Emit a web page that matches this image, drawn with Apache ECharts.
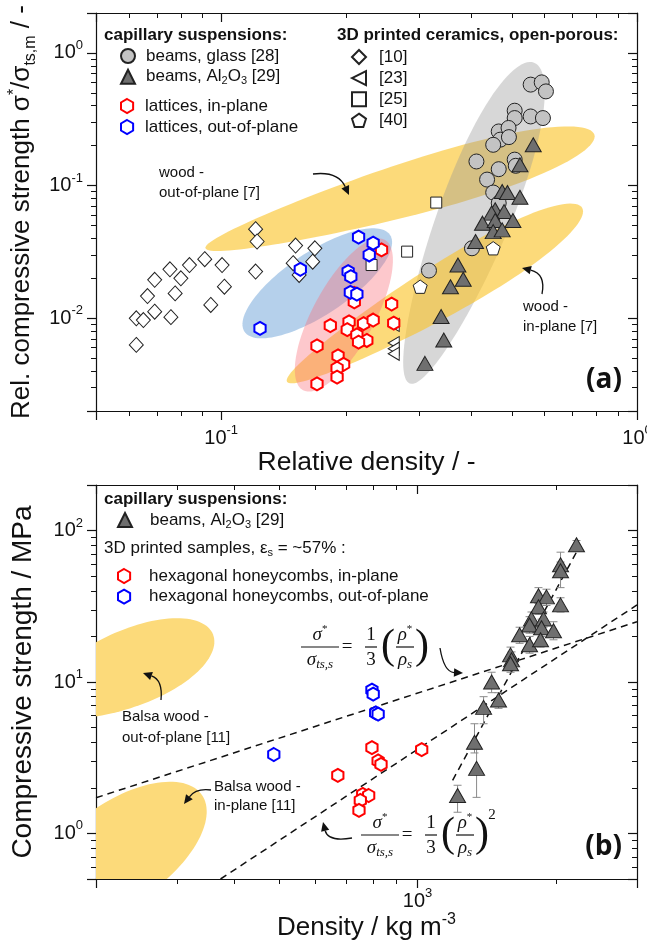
<!DOCTYPE html>
<html>
<head>
<meta charset="utf-8">
<script src="https://cdn.jsdelivr.net/npm/echarts@6/dist/echarts.min.js"></script>
<style>
  html, body { margin: 0; padding: 0; background: #fff; }
  #main { width: 647px; height: 943px; }
</style>
</head>
<body>
<div id="main"></div>
<script>
// ---- panel (a): relative density vs relative compressive strength ----
const glassA = [[0.555,0.577],[0.590,0.600],[0.604,0.513],[0.508,0.367],[0.508,0.323],[0.555,0.332],
  [0.594,0.323],[0.465,0.256],[0.491,0.272],[0.469,0.222],[0.492,0.232],[0.451,0.203],[0.411,0.152],
  [0.508,0.157],[0.465,0.133],[0.511,0.141],[0.436,0.111],[0.451,0.0887],[0.465,0.0738],[0.401,0.0337],
  [0.316,0.0229]];
const alumA = [[0.563,0.203],[0.523,0.1435],[0.474,0.0902],[0.488,0.0887],[0.523,0.0818],[0.456,0.0657],
  [0.479,0.0637],[0.447,0.062],[0.425,0.0521],[0.456,0.0545],[0.503,0.0545],[0.451,0.045],[0.474,0.0464],
  [0.409,0.0379],[0.371,0.0252],[0.382,0.0197],[0.356,0.0173],[0.338,0.0103],[0.343,0.00686],[0.309,0.00457]];
const latInA = [[0.243,0.0328],[0.209,0.0154],[0.209,0.0133],[0.257,0.0128],[0.183,0.0088],[0.203,0.0094],
  [0.220,0.0091],[0.232,0.0097],[0.260,0.0092],[0.201,0.0082],[0.212,0.0075],[0.224,0.0068],[0.214,0.0066],
  [0.170,0.0062],[0.191,0.0052],[0.197,0.0045],[0.190,0.0042],[0.190,0.0036],[0.170,0.0032]];
const latOutA = [[0.214,0.0409],[0.232,0.0368],[0.227,0.030],[0.155,0.0234],[0.202,0.0225],[0.205,0.0206],
  [0.2045,0.0157],[0.212,0.0152],[0.124,0.0084]];
const ref10 = [[0.121,0.0469],[0.122,0.0379],[0.151,0.0353],[0.168,0.0337],[0.149,0.026],[0.166,0.0267],
  [0.154,0.0212],[0.121,0.0225],[0.0913,0.0279],[0.0839,0.0252],[0.0753,0.0234],[0.1005,0.0252],[0.080,0.020],
  [0.0692,0.0195],[0.1018,0.0173],[0.0775,0.0154],[0.0665,0.0147],[0.0944,0.0126],[0.0692,0.0112],
  [0.0625,0.010],[0.065,0.0097],[0.0757,0.0102],[0.0625,0.0063]];
const ref23 = [[0.260,0.0089],[0.260,0.0065],[0.260,0.0059],[0.260,0.0054]];
const ref25 = [[0.329,0.0745],[0.280,0.0318],[0.230,0.0252]];
const ref40 = [[0.301,0.0173],[0.451,0.0337]];
// shaded regions, two ends of each region's long axis
const woodOutA = [[0.0917,0.0337],[0.79,0.2416]];
const grayA    = [[0.284,0.00323],[0.5655,0.845]];
const woodInA  = [[0.144,0.00332],[0.738,0.068]];
const blueA    = [[0.1138,0.00792],[0.2547,0.0425]];
const pinkA    = [[0.1573,0.00287],[0.2474,0.039]];

// ---- panel (b): density vs compressive strength ----
const alumB = [[2216,80.7],[2046,59.5],[2046,54.3],[1832,37.1],[1907,36.5],[2046,32.3],[1832,31.4],
  [1769,26.1],[1879,26.1],[1752,23.8],[1860,22.8],[1975,21.8],[1667,20.5],[1752,17.6],[1851,19.0],
  [1593,15.1],[1601,14.0],[1593,13.2],[1449,10.0],[1500,7.6],[1392,6.8],[1330,4.0],[1344,2.69],[1222,1.78]];
const alumBErr = [[75,86],[50,72],[42,62],[33,42],[32,41],[29,36],[28,35],[23,29],[23,29],[21,27],[20,26],
  [19,25],[18,23],[15.5,20],[17,21.5],[13.5,17],[12.3,15.8],[11.6,14.8],[8.5,11.6],[6.7,8.5],[5.3,8],
  [3.4,5.3],[1.73,3.6],[1.38,2.08]];
const honeyInB = [[1021,3.58],[796,3.69],[821,3.01],[833,2.86],[671,2.42],[760,1.81],[783,1.78],[751,1.65],[746,1.42]];
const honeyOutB = [[796,8.85],[801,8.32],[811,6.26],[821,6.13],[487,3.32]];
const linFit = [[200,1.72],[3000,25]];
const sqFit = [[373,0.5],[3000,32.3]];
const alumFit = [[1192,2.24],[2249,78.3]];
const balsaOut = [[148.9,6.97],[359.2,20.65]];
const balsaIn = [[149.8,0.312],[339.6,1.8]];

const FONT = '"Liberation Sans", Arial, sans-serif';
const MATH = '"Liberation Serif", "DejaVu Serif", serif';
const INK = '#111';
const YEL = 'rgba(250,196,40,0.62)';

const HEX = 'path://M0,-10L8.66,-5L8.66,5L0,10L-8.66,5L-8.66,-5Z';
const LTRI = 'path://M-10,0L10,-10L10,10Z';
const PENT = 'path://M0,-10L9.51,-3.09L5.88,8.09L-5.88,8.09L-9.51,-3.09Z';

function decadeLabel(v) {
  const l = Math.log10(v), e = Math.round(l);
  if (Math.abs(l - e) > 1e-6) return '';
  return '{b|10}{s|' + e + '}';
}
const tickRich = {
  b: { fontSize: 20, fontFamily: FONT, color: INK, lineHeight: 28 },
  s: { fontSize: 13, fontFamily: FONT, color: INK, lineHeight: 13, verticalAlign: 'top' }
};
function titleRich(size) {
  return {
    n: { fontSize: size, fontFamily: FONT, color: INK, lineHeight: 32 },
    p: { fontSize: 16, fontFamily: FONT, color: INK, lineHeight: 16, verticalAlign: 'top' },
    d: { fontSize: 16, fontFamily: FONT, color: INK, lineHeight: 16, verticalAlign: 'bottom' }
  };
}

function logAxis(opt) {
  return Object.assign({
    type: 'log', logBase: 10,
    axisLine: { show: true, onZero: false, lineStyle: { color: INK, width: 1.2 } },
    axisTick: { show: true, inside: false, length: 9, lineStyle: { color: INK, width: 1.2 } },
    minorTick: { show: true, splitNumber: 9, length: 5, lineStyle: { color: INK, width: 1 } },
    splitLine: { show: false },
    axisLabel: { show: false },
    nameTextStyle: { rich: titleRich(26) }
  }, opt);
}
function mirror(a) {
  a.axisTick = Object.assign({}, a.axisTick, { inside: true });
  return a;
}
const labels = { show: true, formatter: decadeLabel, margin: 13, rich: tickRich, color: INK };

function ellipseRenderer(styles) {
  return function (params, api) {
    const p1 = api.coord([api.value(0), api.value(1)]);
    const p2 = api.coord([api.value(2), api.value(3)]);
    const st = styles[params.dataIndex];
    const cx = (p1[0] + p2[0]) / 2, cy = (p1[1] + p2[1]) / 2;
    const a = Math.hypot(p2[0] - p1[0], p2[1] - p1[1]) / 2, b = a * st.ratio;
    const t = Math.atan2(p2[1] - p1[1], p2[0] - p1[0]);
    const pts = [];
    for (let k = 0; k < 120; k++) {
      const u = k / 120 * 2 * Math.PI;
      const ex = a * Math.cos(u), ey = b * Math.sin(u) * (1 + st.egg * Math.cos(u));
      pts.push([cx + ex * Math.cos(t) - ey * Math.sin(t), cy + ex * Math.sin(t) + ey * Math.cos(t)]);
    }
    const cs = params.coordSys;
    return {
      type: 'group',
      clipPath: { type: 'rect', shape: { x: cs.x, y: cs.y, width: cs.width, height: cs.height } },
      children: [{ type: 'polygon', shape: { points: pts }, style: { fill: st.fill } }]
    };
  };
}
const ellA = [woodOutA, grayA, woodInA, blueA, pinkA];
const ellAStyle = [
  { ratio: 0.13, egg: 0.3, fill: YEL },
  { ratio: 0.21, egg: 0.15, fill: 'rgba(150,150,150,0.38)' },
  { ratio: 0.15, egg: 0.25, fill: YEL },
  { ratio: 0.36, egg: 0, fill: 'rgba(90,150,210,0.45)' },
  { ratio: 0.36, egg: 0, fill: 'rgba(250,110,120,0.38)' }
];
const ellB = [balsaOut, balsaIn];
const ellBStyle = [
  { ratio: 0.4, egg: 0.1, fill: 'rgb(252,218,122)' },
  { ratio: 0.5, egg: 0, fill: 'rgb(252,218,122)' }
];

function renderErr(params, api) {
  const x = api.value(0);
  const top = api.coord([x, api.value(2)]);
  const bot = api.coord([x, api.value(1)]);
  const st = { stroke: '#8a8a8a', lineWidth: 1 };
  return {
    type: 'group', children: [
      { type: 'line', shape: { x1: top[0], y1: top[1], x2: bot[0], y2: bot[1] }, style: st },
      { type: 'line', shape: { x1: top[0] - 4, y1: top[1], x2: top[0] + 4, y2: top[1] }, style: st },
      { type: 'line', shape: { x1: bot[0] - 4, y1: bot[1], x2: bot[0] + 4, y2: bot[1] }, style: st }
    ]
  };
}

function scatter(name, data, xi, symbol, size, fill, stroke, bw) {
  return {
    name, type: 'scatter', data, xAxisIndex: xi, yAxisIndex: xi, z: 5,
    symbol, symbolSize: size, symbolKeepAspect: true, silent: true,
    itemStyle: { color: fill, borderColor: stroke, borderWidth: bw, opacity: 1 }
  };
}

// ---- annotations ----
function txt(x, y, text, o) {
  o = o || {};
  const al = o.align || 'left';
  return {
    type: 'text', x, y, z: 100, silent: true,
    style: {
      text, fill: INK, font: o.font || ('15px ' + FONT),
      align: al, verticalAlign: 'middle', textAlign: al, textVerticalAlign: 'middle',
      rich: o.rich
    }
  };
}
function arrow(x1, y1, cx, cy, x2, y2) {
  const ang = Math.atan2(y2 - cy, x2 - cx);
  const L = 9, W = 4.2;
  const bx = x2 - L * Math.cos(ang), by = y2 - L * Math.sin(ang);
  const nx = -Math.sin(ang), ny = Math.cos(ang);
  return [
    { type: 'bezierCurve', z: 100, silent: true, shape: { x1, y1, x2: bx, y2: by, cpx1: cx, cpy1: cy },
      style: { stroke: INK, lineWidth: 1.3, fill: null } },
    { type: 'polygon', z: 100, silent: true,
      shape: { points: [[x2, y2], [bx + nx * W, by + ny * W], [bx - nx * W, by - ny * W]] },
      style: { fill: INK } }
  ];
}
const mathRich = {
  i: { fontFamily: MATH, fontStyle: 'italic', fontSize: 19, lineHeight: 22, color: INK },
  u: { fontFamily: MATH, fontSize: 19, lineHeight: 22, color: INK },
  p: { fontFamily: MATH, fontSize: 11, lineHeight: 11, verticalAlign: 'top', color: INK },
  d: { fontFamily: MATH, fontStyle: 'italic', fontSize: 13, lineHeight: 13, verticalAlign: 'bottom', color: INK }
};
function frac(cx, cy, num, den, w) {
  return [
    txt(cx, cy - 12, num, { align: 'center', rich: mathRich }),
    { type: 'line', z: 100, silent: true, shape: { x1: cx - w / 2, y1: cy, x2: cx + w / 2, y2: cy },
      style: { stroke: INK, lineWidth: 1.2 } },
    txt(cx, cy + 13, den, { align: 'center', rich: mathRich })
  ];
}
function formula(x0, cy, squared) {
  const els = [];
  els.push(...frac(x0, cy, '{i|σ}{p|*}', '{i|σ}{d|ts,s}', 38));
  els.push(txt(x0 + 27, cy, '{u|=}', { align: 'center', rich: mathRich }));
  els.push(...frac(x0 + 51, cy, '{u|1}', '{u|3}', 12));
  els.push(txt(x0 + 68, cy, '(', { align: 'center', font: '42px ' + MATH }));
  els.push(...frac(x0 + 85, cy, '{i|ρ}{p|*}', '{i|ρ}{d|s}', 18));
  els.push(txt(x0 + 102, cy, ')', { align: 'center', font: '42px ' + MATH }));
  if (squared) els.push(txt(x0 + 112, cy - 20, '2', { align: 'center', font: '15px ' + MATH }));
  return els;
}
const subRich = {
  t: { fontSize: 17, fontFamily: FONT, color: INK, lineHeight: 20 },
  s: { fontSize: 11, fontFamily: FONT, color: INK, lineHeight: 11, verticalAlign: 'bottom' }
};

const graphics = [].concat(
  [txt(104, 35, 'capillary suspensions:', { font: 'bold 17px ' + FONT }),
   txt(337, 35, '3D printed ceramics, open-porous:', { font: 'bold 17px ' + FONT }),
   txt(104, 499, 'capillary suspensions:', { font: 'bold 17px ' + FONT }),
   txt(104, 548, '{t|3D printed samples, ε}{s|s}{t| = ~57% :}', { rich: subRich }),
   txt(622, 380, '(a)', { align: 'right', font: 'bold 28px "Open Sans", ' + FONT }),
   txt(622, 847, '(b)', { align: 'right', font: 'bold 28px "Open Sans", ' + FONT }),
   txt(159, 173, 'wood -'), txt(159, 193, 'out-of-plane [7]'),
   txt(523, 307, 'wood -'), txt(523, 327, 'in-plane [7]'),
   txt(122, 717, 'Balsa wood -'), txt(122, 738, 'out-of-plane [11]'),
   txt(214, 787, 'Balsa wood -'), txt(214, 806, 'in-plane [11]')],
  arrow(313, 174, 338, 171, 349, 195),
  arrow(542, 294, 546, 274, 522, 268),
  arrow(161, 700, 163, 680, 143, 673),
  arrow(211, 790, 196, 788, 184, 804),
  arrow(440, 648, 444, 672, 463, 673),
  arrow(352, 838, 328, 842, 323, 822),
  formula(320, 647, false),
  formula(380, 835, true)
);

function legendName(name) {
  if (name.indexOf('Al2O3') >= 0) return '{t|beams, Al}{s|2}{t|O}{s|3}{t| [29]}';
  return '{t|' + name + '}';
}
function leg(left, top, gap, pad, data) {
  return {
    orient: 'vertical', left, top, itemGap: gap, padding: 0, itemWidth: 14, itemHeight: 14,
    selectedMode: false, data, formatter: legendName,
    textStyle: { fontFamily: FONT, fontSize: 17, color: INK, lineHeight: 20, padding: [0, 0, 0, pad], rich: subRich }
  };
}

const chart = echarts.init(document.getElementById('main'));
chart.setOption({
  animation: false,
  backgroundColor: '#fff',
  textStyle: { fontFamily: FONT },
  grid: [
    { left: 96, right: 10, top: 13, height: 398, outerBoundsMode: 'none' },
    { left: 96, right: 10, top: 485, height: 394, outerBoundsMode: 'none' }
  ],
  xAxis: [
    logAxis({ gridIndex: 0, position: 'bottom', min: 0.05, max: 1, axisLabel: labels,
      name: '{n|Relative density / -}', nameLocation: 'middle', nameGap: 36,
      nameTextStyle: { rich: titleRich(26.5) } }),
    mirror(logAxis({ gridIndex: 0, position: 'top', min: 0.05, max: 1 })),
    logAxis({ gridIndex: 1, position: 'bottom', min: 200, max: 3000, axisLabel: Object.assign({}, labels, { margin: 8 }),
      name: '{n|Density / kg m}{p|-3}', nameLocation: 'middle', nameGap: 33 }),
    mirror(logAxis({ gridIndex: 1, position: 'top', min: 200, max: 3000 }))
  ],
  yAxis: [
    logAxis({ gridIndex: 0, position: 'left', min: 0.002, max: 2, axisLabel: labels,
      name: '{n|Rel. compressive strength σ}{p|*}{n|/σ}{d|ts,m}{n| / -}', nameLocation: 'middle', nameGap: 57 }),
    mirror(logAxis({ gridIndex: 0, position: 'right', min: 0.002, max: 2 })),
    logAxis({ gridIndex: 1, position: 'left', min: 0.5, max: 200, axisLabel: labels,
      name: '{n|Compressive strength / MPa}', nameLocation: 'middle', nameGap: 57,
      nameTextStyle: { rich: titleRich(28) } }),
    mirror(logAxis({ gridIndex: 1, position: 'right', min: 0.5, max: 200 }))
  ],
  legend: [
    leg(120, 46, 0.7, 6, ['beams, glass [28]', 'beams, Al2O3 [29]']),
    leg(120, 96, 1, 6, ['lattices, in-plane', 'lattices, out-of-plane']),
    leg(351, 47, 1.1, 8, ['[10]', '[23]', '[25]', '[40]']),
    leg(117, 510, 0.7, 13, ['beams, Al2O3 [29]']),
    leg(117, 566, 0.7, 13, ['hexagonal honeycombs, in-plane', 'hexagonal honeycombs, out-of-plane'])
  ],
  graphic: { elements: graphics },
  series: [
    { name: 'regions a', type: 'custom', xAxisIndex: 0, yAxisIndex: 0, z: 1, silent: true, clip: true,
      renderItem: ellipseRenderer(ellAStyle), encode: { x: [0, 2], y: [1, 3] },
      data: ellA.map(e => [e[0][0], e[0][1], e[1][0], e[1][1]]) },
    { name: 'regions b', type: 'custom', xAxisIndex: 2, yAxisIndex: 2, z: 1, silent: true, clip: true,
      renderItem: ellipseRenderer(ellBStyle), encode: { x: [0, 2], y: [1, 3] },
      data: ellB.map(e => [e[0][0], e[0][1], e[1][0], e[1][1]]) },
    scatter('[10]', ref10, 0, 'diamond', [14, 15], '#fff', '#222', 1),
    scatter('[23]', ref23, 0, LTRI, [11, 13], '#fff', '#222', 1),
    scatter('[25]', ref25, 0, 'rect', 11, '#fff', '#222', 1),
    scatter('[40]', ref40, 0, PENT, 14, '#fff', '#222', 1),
    scatter('lattices, in-plane', latInA, 0, HEX, 13, '#fff', '#ff0000', 2),
    scatter('lattices, out-of-plane', latOutA, 0, HEX, 13, '#fff', '#0000ff', 2),
    scatter('beams, glass [28]', glassA, 0, 'circle', 15, '#c3c3c3', '#222', 1),
    scatter('beams, Al2O3 [29]', alumA, 0, 'triangle', [16, 14], '#6f6f6f', '#222', 1),
    { name: 'linear', type: 'line', xAxisIndex: 2, yAxisIndex: 2, data: linFit, showSymbol: false, z: 2, silent: true,
      lineStyle: { color: INK, width: 1.5, type: [7, 5] } },
    { name: 'square', type: 'line', xAxisIndex: 2, yAxisIndex: 2, data: sqFit, showSymbol: false, z: 2, silent: true,
      lineStyle: { color: INK, width: 1.5, type: [7, 5] } },
    { name: 'fit', type: 'line', xAxisIndex: 2, yAxisIndex: 2, data: alumFit, showSymbol: false, z: 2, silent: true,
      lineStyle: { color: INK, width: 1.5, type: [7, 5] } },
    { name: 'err', type: 'custom', xAxisIndex: 2, yAxisIndex: 2, z: 3, silent: true,
      renderItem: renderErr, encode: { x: 0, y: [1, 2] },
      data: alumB.map((p, i) => [p[0], alumBErr[i][0], alumBErr[i][1]]) },
    scatter('hexagonal honeycombs, in-plane', honeyInB, 2, HEX, 13, '#fff', '#ff0000', 2),
    scatter('hexagonal honeycombs, out-of-plane', honeyOutB, 2, HEX, 13, '#fff', '#0000ff', 2),
    scatter('beams, Al2O3 [29]', alumB, 2, 'triangle', [16, 14], '#6f6f6f', '#222', 1)
  ]
});
</script>
</body>
</html>
